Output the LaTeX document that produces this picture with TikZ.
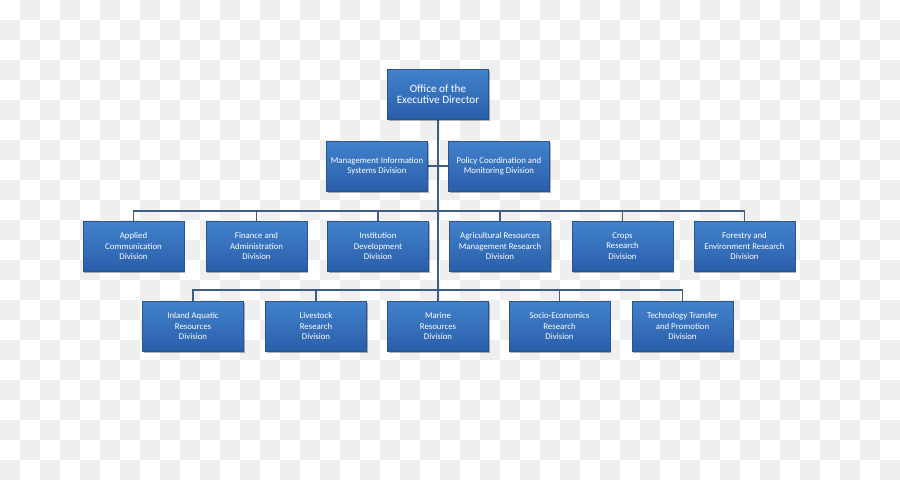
\documentclass[tikz,border=0pt]{standalone}
\usepackage{fontspec}
\setmainfont{Carlito}
\usetikzlibrary{shadows}
\definecolor{checker}{RGB}{239,239,239}
\definecolor{boxtop}{RGB}{66,130,204}
\definecolor{boxbot}{RGB}{42,94,170}
\definecolor{boxborder}{RGB}{40,84,148}
\definecolor{linkcol}{RGB}{62,92,132}
\pgfdeclarelayer{bg}
\pgfsetlayers{bg,main}
\tikzset{
  box/.style={draw=boxborder, line width=0.6pt, top color=boxtop, bottom color=boxbot,
    text=white, align=center, minimum width=101pt, minimum height=50pt, inner sep=1pt,
    font=\fontsize{8.8}{10.3}\selectfont,
    drop shadow={shadow xshift=1.2pt, shadow yshift=-1.6pt, opacity=0.3, fill=black}},
  topbox/.style={box, font=\fontsize{11.2}{11.4}\selectfont},
  link/.style={draw=linkcol, line width=1.1pt}
}
\begin{document}
\begin{tikzpicture}[x=1pt, y=-1pt]
\useasboundingbox (0,0) rectangle (900,480);
% boxes
\node[topbox] (top) at (438,94) {Office of the\\Executive Director};
\node[box] (mis) at (377,166) {Management Information\\Systems Division};
\node[box] (pol) at (499,166) {Policy Coordination and\\Monitoring Division};
\node[box] (app) at (133.5,246) {Applied\\Communication\\Division};
\node[box] (fin) at (256.5,246) {Finance and\\Administration\\Division};
\node[box] (ins) at (378,246) {Institution\\Development\\Division};
\node[box] (agr) at (500,246) {Agricultural Resources\\Management Research\\Division};
\node[box] (cro) at (622.5,246) {Crops\\Research\\Division};
\node[box] (fore) at (744.5,246) {Forestry and\\Environment Research\\Division};
\node[box] (inl) at (193,326) {Inland Aquatic\\Resources\\Division};
\node[box] (liv) at (316,326) {Livestock\\Research\\Division};
\node[box] (mar) at (438,326) {Marine\\Resources\\Division};
\node[box] (soc) at (559.5,326) {Socio-Economics\\Research\\Division};
\node[box] (tec) at (682.5,326) {Technology Transfer\\and Promotion\\Division};
\coordinate (b3) at (438,211);
\coordinate (b4) at (438,290);
\begin{pgfonlayer}{bg}
\foreach \j in {0,...,23}{
  \foreach \i in {1,3,...,45}{
    \fill[checker] ({(\i-mod(\j,2))*20},{\j*20}) rectangle ++(20,20);
  }
}
\draw[link] (top.south) -- (mar.north);
\draw[link] (mis.east) -- (pol.west);
\foreach \n in {app,fin,ins,agr,cro,fore}{
  \draw[link] (\n.north) |- (b3);
}
\foreach \n in {inl,liv,soc,tec}{
  \draw[link] (\n.north) |- (b4);
}
\end{pgfonlayer}
\end{tikzpicture}
\end{document}
